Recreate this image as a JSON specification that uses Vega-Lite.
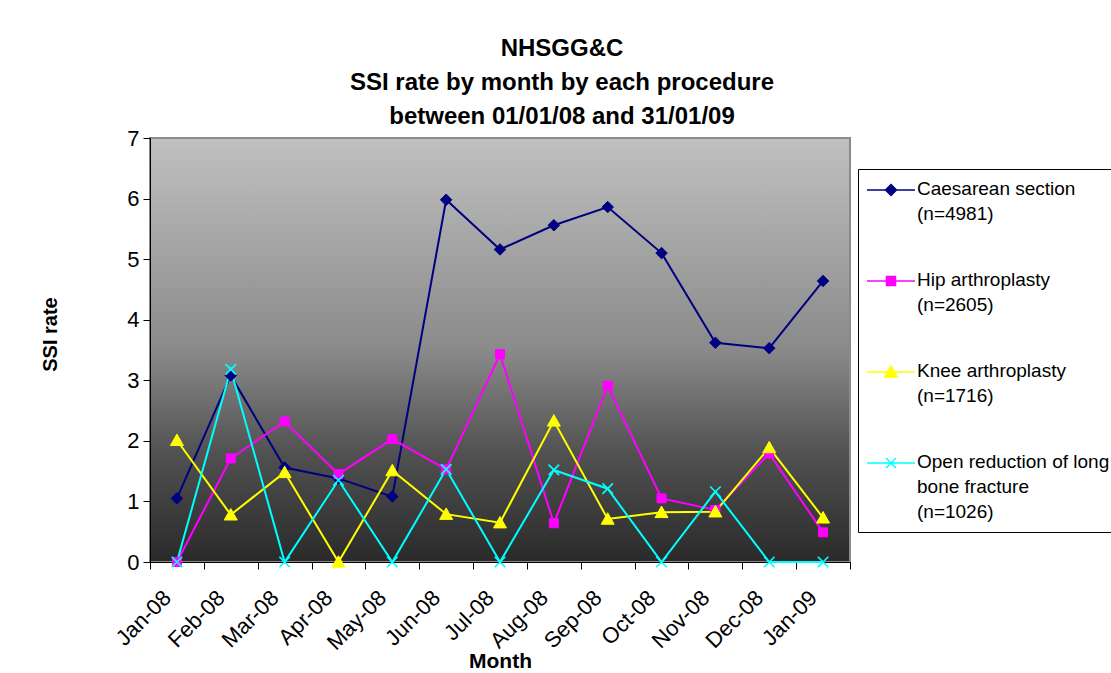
{
  "$schema": "https://vega.github.io/schema/vega-lite/v6.json",
  "width": 700,
  "height": 424,
  "autosize": {"type": "none"},
  "padding": {"left": 150, "top": 138, "right": 261, "bottom": 111},
  "background": "white",
  "config": {
    "font": "Liberation Sans"
  },
  "view": {
    "stroke": "#8a8a8a",
    "strokeWidth": 2,
    "fill": {"gradient": "linear", "x1": 0, "y1": 0, "x2": 0, "y2": 1,
      "stops": [
        {"offset": 0, "color": "#c0c0c0"},
        {"offset": 0.5, "color": "#8a8a8a"},
        {"offset": 0.75, "color": "#505050"},
        {"offset": 1, "color": "#2a2a2a"}
      ]}
  },
  "title": {
    "text": ["NHSGG&C", "SSI rate by month by each procedure", "between 01/01/08 and 31/01/09"],
    "fontSize": 24,
    "fontWeight": "bold",
    "lineHeight": 34,
    "color": "black",
    "anchor": "middle",
    "frame": "group",
    "baseline": "alphabetic",
    "offset": -21,
    "dx": 62
  },
  "data": {"values": [
    {"month": "Jan-08", "procedure": "Caesarean section (n=4981)", "rate": 1.05},
    {"month": "Feb-08", "procedure": "Caesarean section (n=4981)", "rate": 3.08},
    {"month": "Mar-08", "procedure": "Caesarean section (n=4981)", "rate": 1.56},
    {"month": "Apr-08", "procedure": "Caesarean section (n=4981)", "rate": 1.38},
    {"month": "May-08", "procedure": "Caesarean section (n=4981)", "rate": 1.08},
    {"month": "Jun-08", "procedure": "Caesarean section (n=4981)", "rate": 5.98},
    {"month": "Jul-08", "procedure": "Caesarean section (n=4981)", "rate": 5.16},
    {"month": "Aug-08", "procedure": "Caesarean section (n=4981)", "rate": 5.56},
    {"month": "Sep-08", "procedure": "Caesarean section (n=4981)", "rate": 5.86},
    {"month": "Oct-08", "procedure": "Caesarean section (n=4981)", "rate": 5.10},
    {"month": "Nov-08", "procedure": "Caesarean section (n=4981)", "rate": 3.62},
    {"month": "Dec-08", "procedure": "Caesarean section (n=4981)", "rate": 3.53},
    {"month": "Jan-09", "procedure": "Caesarean section (n=4981)", "rate": 4.64},
    {"month": "Jan-08", "procedure": "Hip arthroplasty (n=2605)", "rate": 0},
    {"month": "Feb-08", "procedure": "Hip arthroplasty (n=2605)", "rate": 1.71},
    {"month": "Mar-08", "procedure": "Hip arthroplasty (n=2605)", "rate": 2.32},
    {"month": "Apr-08", "procedure": "Hip arthroplasty (n=2605)", "rate": 1.45},
    {"month": "May-08", "procedure": "Hip arthroplasty (n=2605)", "rate": 2.03},
    {"month": "Jun-08", "procedure": "Hip arthroplasty (n=2605)", "rate": 1.53},
    {"month": "Jul-08", "procedure": "Hip arthroplasty (n=2605)", "rate": 3.43},
    {"month": "Aug-08", "procedure": "Hip arthroplasty (n=2605)", "rate": 0.64},
    {"month": "Sep-08", "procedure": "Hip arthroplasty (n=2605)", "rate": 2.91},
    {"month": "Oct-08", "procedure": "Hip arthroplasty (n=2605)", "rate": 1.05},
    {"month": "Nov-08", "procedure": "Hip arthroplasty (n=2605)", "rate": 0.86},
    {"month": "Dec-08", "procedure": "Hip arthroplasty (n=2605)", "rate": 1.79},
    {"month": "Jan-09", "procedure": "Hip arthroplasty (n=2605)", "rate": 0.49},
    {"month": "Jan-08", "procedure": "Knee arthroplasty (n=1716)", "rate": 2.01},
    {"month": "Feb-08", "procedure": "Knee arthroplasty (n=1716)", "rate": 0.78},
    {"month": "Mar-08", "procedure": "Knee arthroplasty (n=1716)", "rate": 1.48},
    {"month": "Apr-08", "procedure": "Knee arthroplasty (n=1716)", "rate": 0},
    {"month": "May-08", "procedure": "Knee arthroplasty (n=1716)", "rate": 1.51},
    {"month": "Jun-08", "procedure": "Knee arthroplasty (n=1716)", "rate": 0.79},
    {"month": "Jul-08", "procedure": "Knee arthroplasty (n=1716)", "rate": 0.65},
    {"month": "Aug-08", "procedure": "Knee arthroplasty (n=1716)", "rate": 2.33},
    {"month": "Sep-08", "procedure": "Knee arthroplasty (n=1716)", "rate": 0.71},
    {"month": "Oct-08", "procedure": "Knee arthroplasty (n=1716)", "rate": 0.82},
    {"month": "Nov-08", "procedure": "Knee arthroplasty (n=1716)", "rate": 0.83},
    {"month": "Dec-08", "procedure": "Knee arthroplasty (n=1716)", "rate": 1.89},
    {"month": "Jan-09", "procedure": "Knee arthroplasty (n=1716)", "rate": 0.73},
    {"month": "Jan-08", "procedure": "Open reduction of long bone fracture (n=1026)", "rate": 0},
    {"month": "Feb-08", "procedure": "Open reduction of long bone fracture (n=1026)", "rate": 3.18},
    {"month": "Mar-08", "procedure": "Open reduction of long bone fracture (n=1026)", "rate": 0},
    {"month": "Apr-08", "procedure": "Open reduction of long bone fracture (n=1026)", "rate": 1.35},
    {"month": "May-08", "procedure": "Open reduction of long bone fracture (n=1026)", "rate": 0},
    {"month": "Jun-08", "procedure": "Open reduction of long bone fracture (n=1026)", "rate": 1.53},
    {"month": "Jul-08", "procedure": "Open reduction of long bone fracture (n=1026)", "rate": 0},
    {"month": "Aug-08", "procedure": "Open reduction of long bone fracture (n=1026)", "rate": 1.52},
    {"month": "Sep-08", "procedure": "Open reduction of long bone fracture (n=1026)", "rate": 1.21},
    {"month": "Oct-08", "procedure": "Open reduction of long bone fracture (n=1026)", "rate": 0},
    {"month": "Nov-08", "procedure": "Open reduction of long bone fracture (n=1026)", "rate": 1.16},
    {"month": "Dec-08", "procedure": "Open reduction of long bone fracture (n=1026)", "rate": 0},
    {"month": "Jan-09", "procedure": "Open reduction of long bone fracture (n=1026)", "rate": 0}
  ]},
  "encoding": {
    "x": {
      "field": "month",
      "type": "ordinal",
      "bandPosition": 0.5,
      "sort": ["Jan-08", "Feb-08", "Mar-08", "Apr-08", "May-08", "Jun-08", "Jul-08", "Aug-08", "Sep-08", "Oct-08", "Nov-08", "Dec-08", "Jan-09"],
      "scale": {"type": "band", "paddingInner": 0, "paddingOuter": 0},
      "axis": {
        "title": "Month",
        "titleFontSize": 21,
        "titleFontWeight": "bold",
        "titleColor": "black",
        "titleX": 350,
        "titleY": 105,
        "titleAlign": "center",
        "titleBaseline": "alphabetic",
        "labelAngle": -45,
        "labelAlign": "right",
        "labelBaseline": "middle",
        "labelOffset": -10,
        "labelPadding": 25,
        "labelFontSize": 22,
        "labelColor": "black",
        "tickSize": 7,
        "tickBand": "extent",
        "tickColor": "black",
        "domainColor": "black",
        "grid": false
      }
    },
    "y": {
      "field": "rate",
      "type": "quantitative",
      "scale": {"domain": [0, 7], "nice": false},
      "axis": {
        "title": "SSI rate",
        "titleFontSize": 20,
        "titleFontWeight": "bold",
        "titleColor": "black",
        "titleAngle": 270,
        "titleX": -94,
        "titleY": 196,
        "titleAlign": "center",
        "titleBaseline": "alphabetic",
        "values": [0, 1, 2, 3, 4, 5, 6, 7],
        "labelFontSize": 22,
        "labelColor": "black",
        "labelPadding": 4,
        "tickSize": 7,
        "tickColor": "black",
        "domainColor": "black",
        "grid": false
      }
    }
  },
  "layer": [
    {
      "mark": {"type": "line", "strokeWidth": 2},
      "encoding": {
        "color": {
          "field": "procedure",
          "type": "nominal",
          "scale": {
            "domain": ["Caesarean section (n=4981)", "Hip arthroplasty (n=2605)", "Knee arthroplasty (n=1716)", "Open reduction of long bone fracture (n=1026)"],
            "range": ["#000080", "#ff00ff", "#ffff00", "#00ffff"]
          },
          "legend": {
            "title": null,
            "orient": "none",
            "legendX": 708,
            "legendY": 31,
            "padding": 10,
            "strokeColor": "black",
            "fillColor": "white",
            "cornerRadius": 0,
            "rowPadding": 46,
            "symbolSize": 400,
            "symbolOffset": 12,
            "symbolStrokeWidth": 1.5,
            "labelFontSize": 19,
            "labelColor": "black",
            "labelOffset": 15,
            "labelLimit": 500,
            "labelBaseline": "top",
            "labelExpr": "datum.value == 'Caesarean section (n=4981)' ? ['Caesarean section', '(n=4981)'] : datum.value == 'Hip arthroplasty (n=2605)' ? ['Hip arthroplasty', '(n=2605)'] : datum.value == 'Knee arthroplasty (n=1716)' ? ['Knee arthroplasty', '(n=1716)'] : ['Open reduction of long', 'bone fracture', '(n=1026)']",
            "encode": {
              "symbols": {
                "update": {
                  "shape": {"signal": "datum.value == 'Caesarean section (n=4981)' ? 'M-2.4,0H2.4M0,-0.55L0.55,0L0,0.55L-0.55,0Z' : datum.value == 'Hip arthroplasty (n=2605)' ? 'M-2.4,0H2.4M-0.45,-0.45H0.45V0.45H-0.45Z' : datum.value == 'Knee arthroplasty (n=1716)' ? 'M-2.4,0H2.4M0,-0.6L0.62,0.5H-0.62Z' : 'M-2.4,0H2.4M-0.5,-0.5L0.5,0.5M-0.5,0.5L0.5,-0.5'"},
                  "fill": {"signal": "scale('color', datum.value)"},
                  "stroke": {"signal": "scale('color', datum.value)"},
                  "strokeWidth": {"value": 1.5},
                  "opacity": {"value": 1}
                }
              },
              "labels": {
                "update": {
                  "dy": {"value": -10},
                  "lineHeight": {"value": 25}
                }
              }
            }
          }
        }
      }
    },
    {
      "transform": [{"filter": {"field": "procedure", "equal": "Caesarean section (n=4981)"}}],
      "mark": {"type": "point", "filled": true, "size": 100, "shape": "M0,-1.15L1.15,0L0,1.15L-1.15,0Z", "color": "#000080", "stroke": "#000080", "strokeWidth": 1, "opacity": 1}
    },
    {
      "transform": [{"filter": {"field": "procedure", "equal": "Hip arthroplasty (n=2605)"}}],
      "mark": {"type": "point", "filled": true, "size": 100, "shape": "M-0.9,-0.9H0.9V0.9H-0.9Z", "color": "#ff00ff", "stroke": "#ff00ff", "strokeWidth": 1, "opacity": 1}
    },
    {
      "transform": [{"filter": {"field": "procedure", "equal": "Knee arthroplasty (n=1716)"}}],
      "mark": {"type": "point", "filled": true, "size": 100, "shape": "M0,-1.25L1.3,1.05H-1.3Z", "color": "#ffff00", "stroke": "#ffff00", "strokeWidth": 1, "opacity": 1}
    },
    {
      "transform": [{"filter": {"field": "procedure", "equal": "Open reduction of long bone fracture (n=1026)"}}],
      "mark": {"type": "point", "filled": true, "size": 100, "shape": "M-1.05,-1.05L1.05,1.05M-1.05,1.05L1.05,-1.05", "color": "#00ffff", "stroke": "#00ffff", "strokeWidth": 1.7, "opacity": 1}
    }
  ]
}
